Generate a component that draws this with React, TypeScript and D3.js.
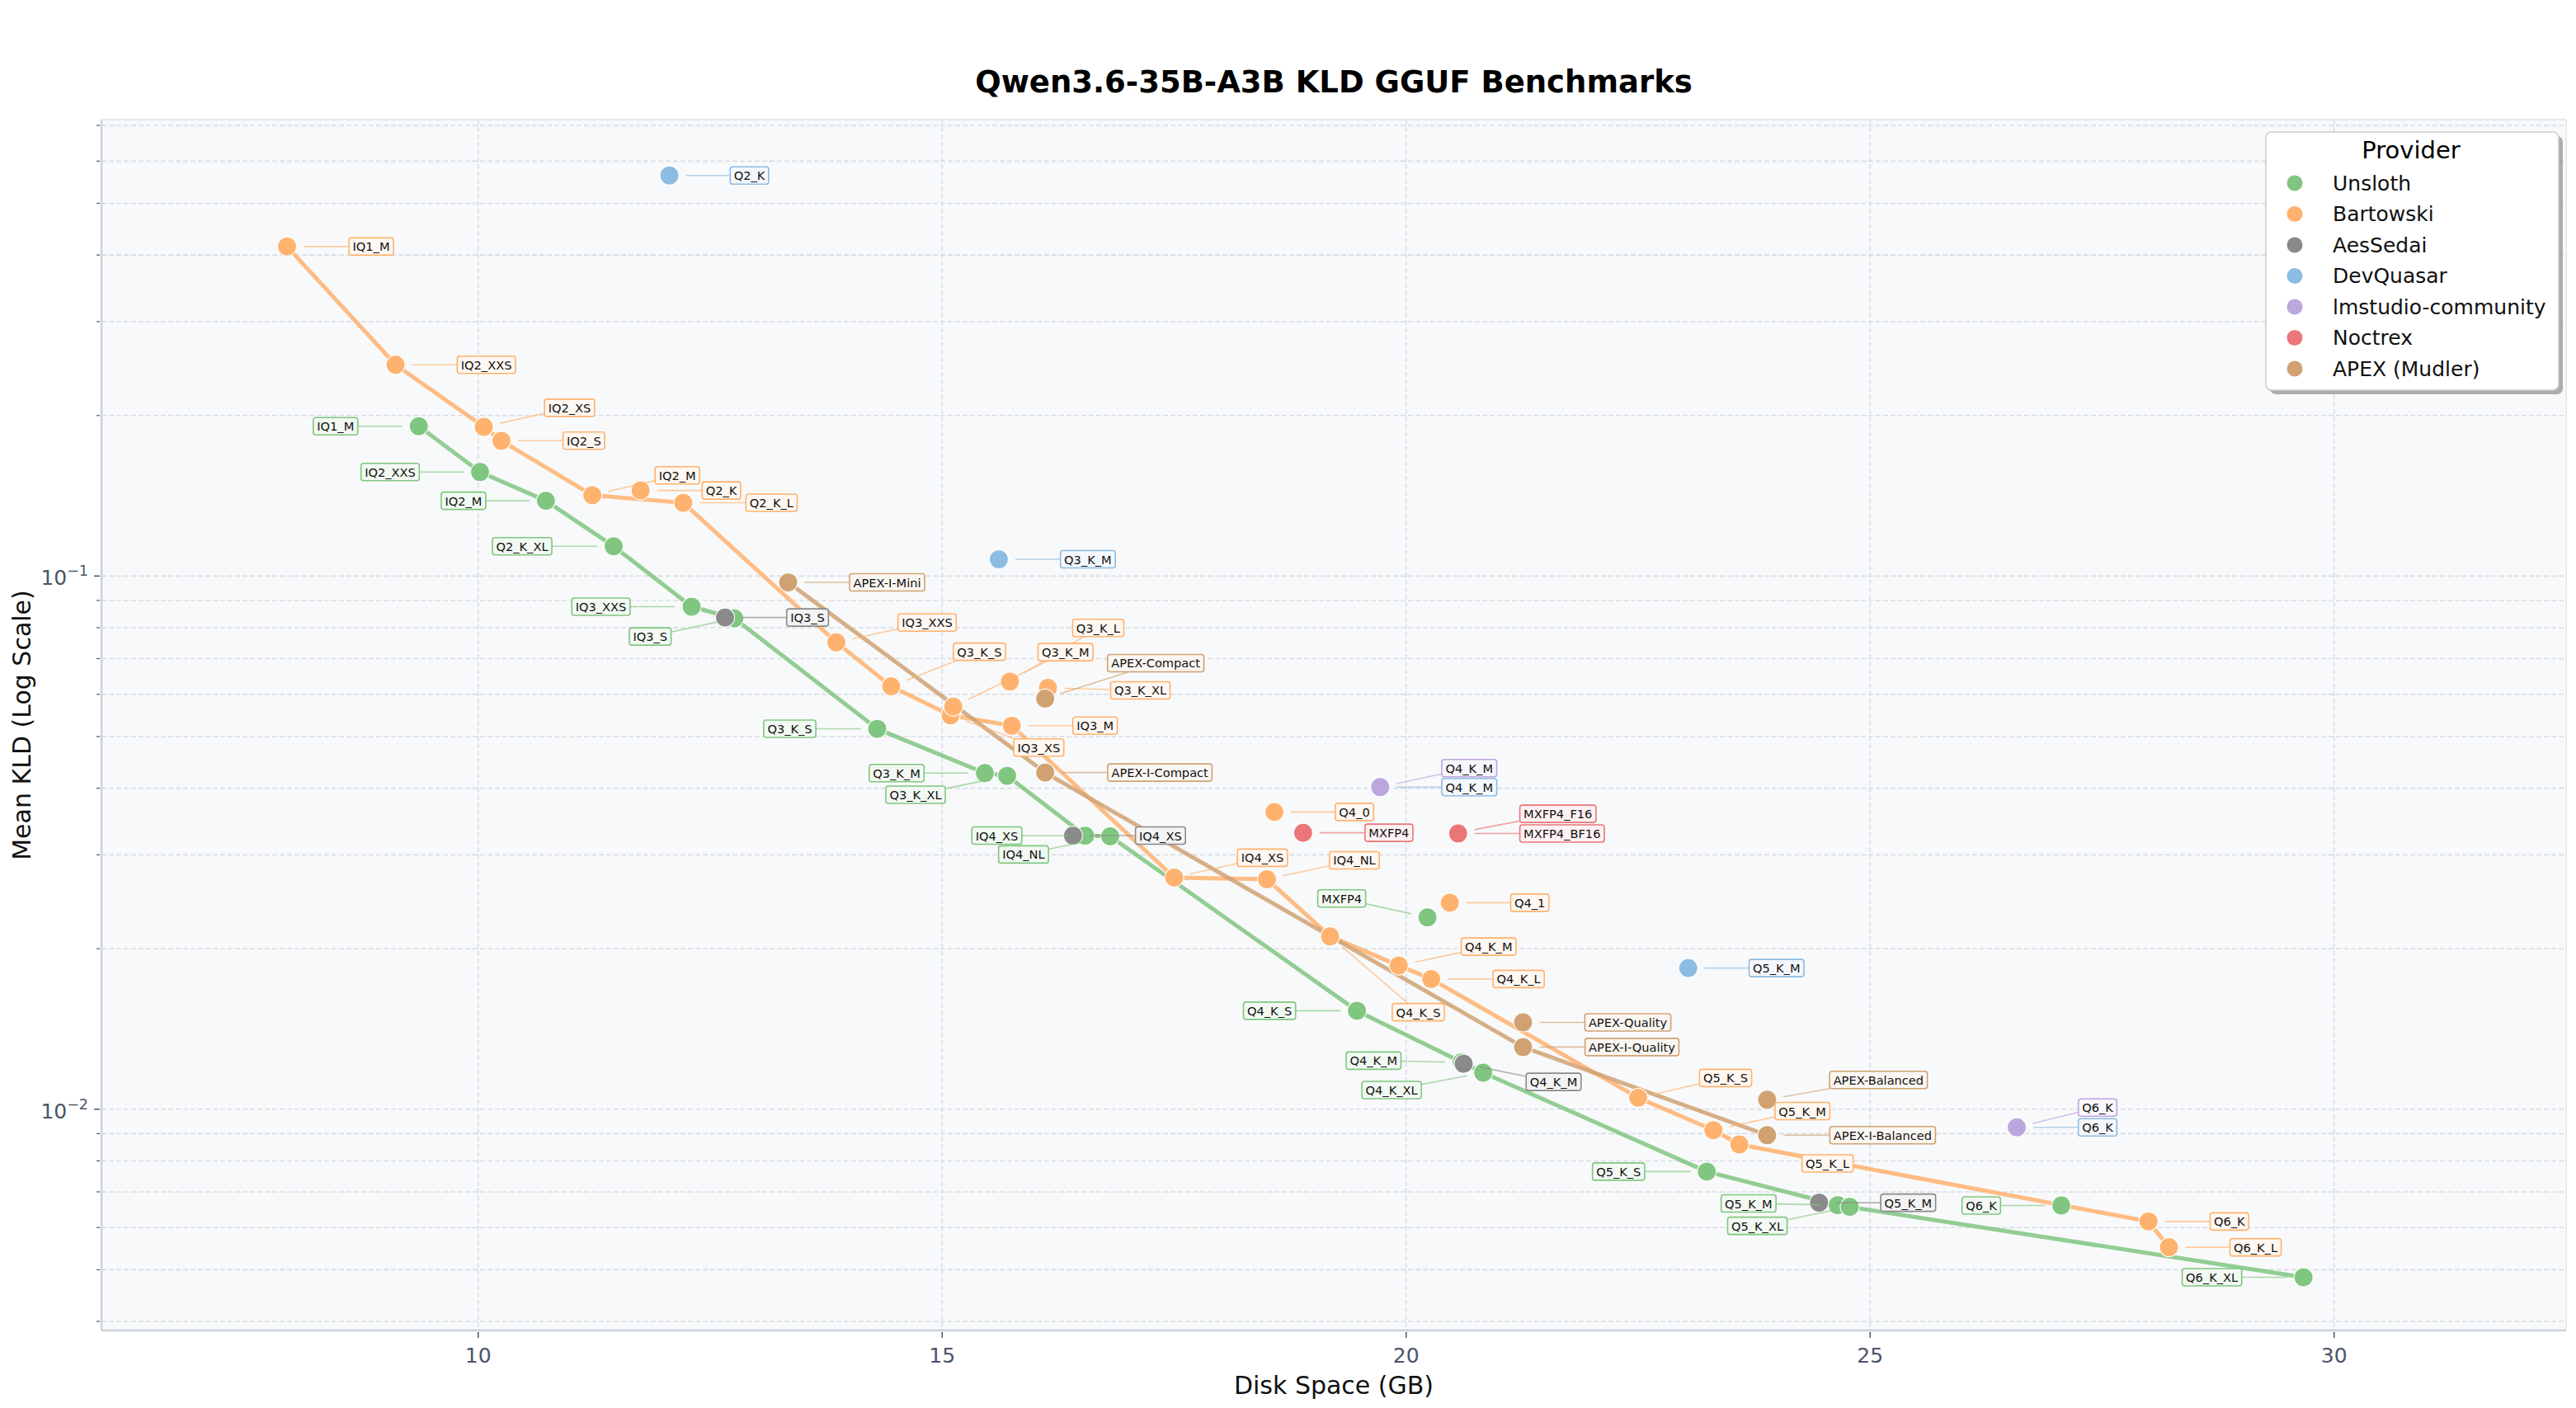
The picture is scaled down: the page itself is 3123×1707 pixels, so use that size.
import React, { useCallback, useEffect, useRef } from 'react';
import * as d3 from 'd3';

// Provider names + colours, in legend order
const providers = ['Unsloth', 'Bartowski', 'AesSedai', 'DevQuasar', 'lmstudio-community', 'Noctrex', 'APEX (Mudler)'];
const providerColors = ['#80c680', '#ffb26e', '#8a8a8a', '#8cbce2', '#bca6de', '#ea7679', '#d0a272'];
// which providers get a pareto line
const lineProviders = ['Unsloth', 'Bartowski', 'APEX (Mudler)'];

// Unsloth
const unslothQuants = ['IQ1_M', 'IQ2_XXS', 'IQ2_M', 'Q2_K_XL', 'IQ3_XXS', 'IQ3_S', 'Q3_K_S', 'Q3_K_M', 'Q3_K_XL', 'IQ4_XS', 'IQ4_NL', 'MXFP4', 'Q4_K_S', 'Q4_K_M', 'Q4_K_XL', 'Q5_K_S', 'Q5_K_M', 'Q5_K_XL', 'Q6_K', 'Q6_K_XL'];
const unslothSize = [9.36, 10.02, 10.73, 11.46, 12.30, 12.76, 14.30, 15.46, 15.70, 16.54, 16.81, 20.23, 19.47, 20.60, 20.83, 23.24, 24.65, 24.78, 27.06, 29.67];
const unslothKld = [0.191, 0.1567, 0.1384, 0.1137, 0.0876, 0.0833, 0.0517, 0.0427, 0.0422, 0.0326, 0.0325, 0.0229, 0.0153, 0.01225, 0.01171, 0.00764, 0.00661, 0.00656, 0.0066, 0.00484];

// Bartowski
const bartowskiQuants = ['IQ1_M', 'IQ2_XXS', 'IQ2_XS', 'IQ2_S', 'IQ2_M', 'Q2_K', 'Q2_K_L', 'IQ3_XXS', 'Q3_K_S', 'IQ3_XS', 'Q3_K_M', 'IQ3_M', 'Q3_K_L', 'Q3_K_XL', 'IQ4_XS', 'IQ4_NL', 'Q4_0', 'Q4_K_S', 'Q4_K_M', 'Q4_K_L', 'Q4_1', 'Q5_K_S', 'Q5_K_M', 'Q5_K_L', 'Q6_K', 'Q6_K_L'];
const bartowskiSize = [7.94, 9.11, 10.06, 10.25, 11.23, 11.75, 12.21, 13.86, 14.45, 15.09, 15.12, 15.75, 15.73, 16.14, 17.50, 18.50, 18.58, 19.18, 19.92, 20.27, 20.47, 22.50, 23.31, 23.59, 28.00, 28.22];
const bartowskiKld = [0.415, 0.249, 0.1905, 0.1794, 0.1418, 0.1447, 0.1372, 0.0751, 0.0621, 0.0548, 0.0569, 0.0524, 0.0634, 0.0617, 0.0272, 0.0270, 0.0361, 0.0211, 0.0186, 0.01755, 0.0244, 0.01051, 0.00914, 0.00859, 0.00616, 0.00551];

// AesSedai
const aesSedaiQuants = ['IQ3_S', 'IQ4_XS', 'Q4_K_M', 'Q5_K_M'];
const aesSedaiSize = [12.66, 16.41, 20.62, 24.45];
const aesSedaiKld = [0.0836, 0.0326, 0.01217, 0.00668];

// DevQuasar
const devQuasarQuants = ['Q2_K', 'Q3_K_M', 'Q4_K_M', 'Q5_K_M', 'Q6_K'];
const devQuasarSize = [12.06, 15.61, 19.72, 23.04, 26.58];
const devQuasarKld = [0.564, 0.1075, 0.0402, 0.0184, 0.00925];

// lmstudio-community
const lmstudioQuants = ['Q4_K_M', 'Q6_K'];
const lmstudioSize = [19.72, 26.58];
const lmstudioKld = [0.0402, 0.00925];

// Noctrex
const noctrexQuants = ['MXFP4', 'MXFP4_F16', 'MXFP4_BF16'];
const noctrexSize = [18.89, 20.56, 20.56];
const noctrexKld = [0.0330, 0.0330, 0.0329];

// APEX (Mudler)
const apexQuants = ['APEX-I-Mini', 'APEX-Compact', 'APEX-I-Compact', 'APEX-Quality', 'APEX-I-Quality', 'APEX-Balanced', 'APEX-I-Balanced'];
const apexSize = [13.34, 16.11, 16.11, 21.26, 21.26, 23.89, 23.89];
const apexKld = [0.0973, 0.0589, 0.0428, 0.01455, 0.01308, 0.01042, 0.00894];

const seriesQuants = [unslothQuants, bartowskiQuants, aesSedaiQuants, devQuasarQuants, lmstudioQuants, noctrexQuants, apexQuants];
const seriesSize = [unslothSize, bartowskiSize, aesSedaiSize, devQuasarSize, lmstudioSize, noctrexSize, apexSize];
const seriesKld = [unslothKld, bartowskiKld, aesSedaiKld, devQuasarKld, lmstudioKld, noctrexKld, apexKld];

// label box placement (px offset of box centre from its point), mimics the adjusted text layout
const labelOffsets: Record<string, [number, number]> = {
  'Unsloth|IQ1_M': [-101, 0], 'Unsloth|IQ2_XXS': [-109, 0], 'Unsloth|IQ2_M': [-100, 0], 'Unsloth|Q2_K_XL': [-111, 0],
  'Unsloth|IQ3_XXS': [-110, 0], 'Unsloth|IQ3_S': [-102, 22], 'Unsloth|Q3_K_S': [-106, 0], 'Unsloth|Q3_K_M': [-107, 0],
  'Unsloth|Q3_K_XL': [-111, 23], 'Unsloth|IQ4_XS': [-107, 0], 'Unsloth|IQ4_NL': [-105, 22], 'Unsloth|MXFP4': [-104, -23],
  'Unsloth|Q4_K_S': [-106, 0], 'Unsloth|Q4_K_M': [-107, -2], 'Unsloth|Q4_K_XL': [-111, 21], 'Unsloth|Q5_K_S': [-107, 0],
  'Unsloth|Q5_K_M': [-108, -2], 'Unsloth|Q5_K_XL': [-112, 23], 'Unsloth|Q6_K': [-97, 0], 'Unsloth|Q6_K_XL': [-111, 0],
  'Bartowski|IQ1_M': [102, 0], 'Bartowski|IQ2_XXS': [110, 0], 'Bartowski|IQ2_XS': [104, -23], 'Bartowski|IQ2_S': [100, 0],
  'Bartowski|IQ2_M': [103, -24], 'Bartowski|Q2_K': [98, 0], 'Bartowski|Q2_K_L': [107, 0], 'Bartowski|IQ3_XXS': [110, -24],
  'Bartowski|Q3_K_S': [107, -42], 'Bartowski|IQ3_XS': [107, 39], 'Bartowski|Q3_K_M': [136, -66], 'Bartowski|IQ3_M': [101, 0],
  'Bartowski|Q3_K_L': [107, -65], 'Bartowski|Q3_K_XL': [112, 3], 'Bartowski|IQ4_XS': [107, -24], 'Bartowski|IQ4_NL': [106, -23],
  'Bartowski|Q4_0': [97, 0], 'Bartowski|Q4_K_S': [107, 92], 'Bartowski|Q4_K_M': [109, -23], 'Bartowski|Q4_K_L': [106, 0],
  'Bartowski|Q4_1': [97, 0], 'Bartowski|Q5_K_S': [106, -24], 'Bartowski|Q5_K_M': [108, -23], 'Bartowski|Q5_K_L': [107, 23],
  'Bartowski|Q6_K': [98, 0], 'Bartowski|Q6_K_L': [105, 0],
  'AesSedai|IQ3_S': [100, 0], 'AesSedai|IQ4_XS': [106, 0], 'AesSedai|Q4_K_M': [109, 22], 'AesSedai|Q5_K_M': [108, 0],
  'DevQuasar|Q2_K': [97, 0], 'DevQuasar|Q3_K_M': [108, 0], 'DevQuasar|Q4_K_M': [108, 0], 'DevQuasar|Q5_K_M': [107, 0], 'DevQuasar|Q6_K': [98, 0],
  'lmstudio-community|Q4_K_M': [108, -23], 'lmstudio-community|Q6_K': [98, -24],
  'Noctrex|MXFP4': [104, 0], 'Noctrex|MXFP4_F16': [121, -23], 'Noctrex|MXFP4_BF16': [126, 0],
  'APEX (Mudler)|APEX-I-Mini': [120, 0], 'APEX (Mudler)|APEX-Compact': [134, -43], 'APEX (Mudler)|APEX-I-Compact': [139, 0],
  'APEX (Mudler)|APEX-Quality': [127, 0], 'APEX (Mudler)|APEX-I-Quality': [132, 0], 'APEX (Mudler)|APEX-Balanced': [135, -24],
  'APEX (Mudler)|APEX-I-Balanced': [140, 0],
};

const xTicks = [10, 15, 20, 25, 30];

interface Pt { provider: string; color: string; quant: string; size: number; kld: number; }

const WIDTH = 3123;
const HEIGHT = 1707;
const FONT = "'DejaVu Sans', 'Liberation Sans', sans-serif";

// lower-left envelope: keep a point only if it beats every smaller file
const paretoFront = (pts: Pt[]) => {
  const sorted = [...pts].sort((a, b) => a.size - b.size || a.kld - b.kld);
  let best = Infinity;
  return sorted.filter(p => {
    if (p.kld < best) { best = p.kld; return true; }
    return false;
  });
};

const KldChart: React.FC = () => {
  const svgRef = useRef<SVGSVGElement>(null);

  const render = useCallback(() => {
    if (!svgRef.current) return;
    const svg = d3.select(svgRef.current);
    svg.selectAll('*').remove();

    const m = { left: 123, right: 3111, top: 145, bottom: 1613 };
    const x = d3.scaleLinear().domain([5.94, 32.5]).range([m.left, m.right]);
    const y = d3.scaleLog().domain([0.003847, 0.7178]).range([m.bottom, m.top]);

    const series: Pt[][] = providers.map((prov, i) =>
      seriesQuants[i].map((q, j) => ({
        provider: prov, color: providerColors[i], quant: q, size: seriesSize[i][j], kld: seriesKld[i][j],
      }))
    );

    svg.append('rect').attr('width', WIDTH).attr('height', HEIGHT).attr('fill', '#ffffff');

    // plot background
    svg.append('rect')
      .attr('x', m.left).attr('y', m.top)
      .attr('width', m.right - m.left).attr('height', m.bottom - m.top)
      .attr('fill', '#f8f9fa');

    // grid
    const grid = svg.append('g');
    const yTicks = y.ticks();
    yTicks.forEach(t => {
      grid.append('line')
        .attr('x1', m.left).attr('x2', m.right)
        .attr('y1', y(t)).attr('y2', y(t))
        .attr('stroke', '#d6dde5').attr('stroke-width', 1.6)
        .attr('stroke-dasharray', '6,3');
    });
    xTicks.forEach(t => {
      grid.append('line')
        .attr('x1', x(t)).attr('x2', x(t))
        .attr('y1', m.top).attr('y2', m.bottom)
        .attr('stroke', '#d6dfe8').attr('stroke-width', 1.6)
        .attr('stroke-dasharray', '6,3');
    });

    // spines
    svg.append('line').attr('x1', m.left).attr('x2', m.right).attr('y1', m.top).attr('y2', m.top)
      .attr('stroke', '#dde3ea').attr('stroke-width', 1.4);
    svg.append('line').attr('x1', m.right).attr('x2', m.right).attr('y1', m.top).attr('y2', m.bottom)
      .attr('stroke', '#dde3ea').attr('stroke-width', 1.4);
    svg.append('line').attr('x1', m.left).attr('x2', m.right).attr('y1', m.bottom).attr('y2', m.bottom)
      .attr('stroke', '#cbd3db').attr('stroke-width', 2.5);
    svg.append('line').attr('x1', m.left).attr('x2', m.left).attr('y1', m.top).attr('y2', m.bottom)
      .attr('stroke', '#cbd3db').attr('stroke-width', 2.5);

    // pareto lines
    const line = d3.line<Pt>().x(d => x(d.size)).y(d => y(d.kld));
    series.forEach(pts => {
      if (!lineProviders.includes(pts[0].provider)) return;
      svg.append('path')
        .attr('d', line(paretoFront(pts)) || '')
        .attr('fill', 'none')
        .attr('stroke', pts[0].color)
        .attr('stroke-width', 5)
        .attr('stroke-opacity', 0.85)
        .attr('stroke-linejoin', 'round');
    });

    // markers
    const markerLayer = svg.append('g');
    series.forEach(pts => {
      pts.forEach(p => {
        markerLayer.append('circle')
          .attr('cx', x(p.size)).attr('cy', y(p.kld)).attr('r', 11.5)
          .attr('fill', p.color)
          .attr('stroke', '#ffffff').attr('stroke-width', 1.2).attr('stroke-opacity', 0.9);
      });
    });

    // annotations (leader + boxed label)
    const leaderLayer = svg.append('g');
    const labelLayer = svg.append('g');
    series.forEach(pts => {
      pts.forEach(p => {
        const px = x(p.size);
        const py = y(p.kld);
        const off = labelOffsets[`${p.provider}|${p.quant}`] || [100, 0];
        const cx = px + off[0];
        const cy = py + off[1];

        const t = labelLayer.append('text')
          .attr('x', cx).attr('y', cy)
          .attr('text-anchor', 'middle')
          .attr('dominant-baseline', 'central')
          .attr('font-family', FONT)
          .attr('font-size', 14.6)
          .attr('fill', '#111111')
          .text(p.quant);
        const tw = (t.node() as SVGTextElement).getComputedTextLength();
        const bw = tw + 9;
        const bh = 21;
        labelLayer.insert('rect', () => t.node() as any)
          .attr('x', cx - bw / 2).attr('y', cy - bh / 2)
          .attr('width', bw).attr('height', bh)
          .attr('rx', 3)
          .attr('fill', d3.interpolateRgb('#ffffff', p.color)(0.1))
          .attr('stroke', p.color)
          .attr('stroke-width', 1.6);

        const vx = px - cx;
        const vy = py - cy;
        const len = Math.hypot(vx, vy);
        const tEdge = Math.min(
          Math.abs(vx) > 0 ? (bw / 2) / Math.abs(vx) : Infinity,
          Math.abs(vy) > 0 ? (bh / 2) / Math.abs(vy) : Infinity
        );
        const ex = cx + vx * tEdge;
        const ey = cy + vy * tEdge;
        const sx = px - (vx / len) * 20;
        const sy = py - (vy / len) * 20;
        if (Math.hypot(ex - px, ey - py) > 22) {
          leaderLayer.append('line')
            .attr('x1', sx).attr('y1', sy).attr('x2', ex).attr('y2', ey)
            .attr('stroke', p.color).attr('stroke-width', 1.6).attr('stroke-opacity', 0.65);
        }
      });
    });

    // x axis
    const tickColor = '#4a5568';
    xTicks.forEach(t => {
      svg.append('line').attr('x1', x(t)).attr('x2', x(t)).attr('y1', m.bottom + 2).attr('y2', m.bottom + 9)
        .attr('stroke', tickColor).attr('stroke-width', 1.5);
      svg.append('text').attr('x', x(t)).attr('y', 1652)
        .attr('text-anchor', 'middle').attr('font-family', FONT).attr('font-size', 25)
        .attr('fill', tickColor).text(String(t));
    });

    // y axis (log)
    yTicks.forEach(t => {
      const major = Math.abs(Math.log10(t) - Math.round(Math.log10(t))) < 1e-6;
      svg.append('line').attr('x1', m.left - 2).attr('x2', m.left - (major ? 9 : 6))
        .attr('y1', y(t)).attr('y2', y(t))
        .attr('stroke', tickColor).attr('stroke-width', major ? 1.5 : 1.2);
      if (major) {
        const exp = Math.round(Math.log10(t));
        const lab = svg.append('text').attr('x', 107).attr('y', y(t) + 11)
          .attr('text-anchor', 'end').attr('font-family', FONT).attr('font-size', 25)
          .attr('fill', tickColor);
        lab.append('tspan').text('10');
        lab.append('tspan').attr('font-size', 17.5).attr('dy', -11).text(`\u2212${Math.abs(exp)}`);
      }
    });

    // titles
    svg.append('text').attr('x', (m.left + m.right) / 2).attr('y', 112)
      .attr('text-anchor', 'middle').attr('font-family', FONT).attr('font-size', 37)
      .attr('font-weight', 'bold').attr('fill', '#000').text('Qwen3.6-35B-A3B KLD GGUF Benchmarks');
    svg.append('text').attr('x', (m.left + m.right) / 2).attr('y', 1690)
      .attr('text-anchor', 'middle').attr('font-family', FONT).attr('font-size', 30)
      .attr('fill', '#111').text('Disk Space (GB)');
    svg.append('text')
      .attr('transform', `translate(26, ${(m.top + m.bottom) / 2}) rotate(-90)`)
      .attr('text-anchor', 'middle').attr('dominant-baseline', 'central')
      .attr('font-family', FONT).attr('font-size', 30)
      .attr('fill', '#111').text('Mean KLD (Log Scale)');

    // legend
    const lg = svg.append('g');
    const lx = 2747, ly = 160, lw = 355, lh = 313;
    lg.append('rect').attr('x', lx + 5).attr('y', ly + 5).attr('width', lw).attr('height', lh)
      .attr('rx', 7).attr('fill', '#9a9a9a').attr('fill-opacity', 0.8);
    lg.append('rect').attr('x', lx).attr('y', ly).attr('width', lw).attr('height', lh)
      .attr('rx', 7).attr('fill', '#ffffff').attr('stroke', '#cccccc').attr('stroke-width', 1.5);
    lg.append('text').attr('x', lx + 176).attr('y', 182).attr('text-anchor', 'middle')
      .attr('dominant-baseline', 'central').attr('font-family', FONT).attr('font-size', 29)
      .attr('fill', '#000').text('Provider');
    providers.forEach((prov, i) => {
      const ry = 222 + i * 37.5;
      lg.append('circle').attr('cx', 2782).attr('cy', ry).attr('r', 9.5).attr('fill', providerColors[i]);
      lg.append('text').attr('x', 2828).attr('y', ry).attr('dominant-baseline', 'central')
        .attr('font-family', FONT).attr('font-size', 25).attr('fill', '#111').text(prov);
    });
  }, []);

  useEffect(() => {
    render();
  }, [render]);

  return <svg ref={svgRef} width={WIDTH} height={HEIGHT} style={{ display: 'block' }} />;
};

export default function App() {
  return (
    <div>
      <style>{'body{margin:0}'}</style>
      <KldChart />
    </div>
  );
}
